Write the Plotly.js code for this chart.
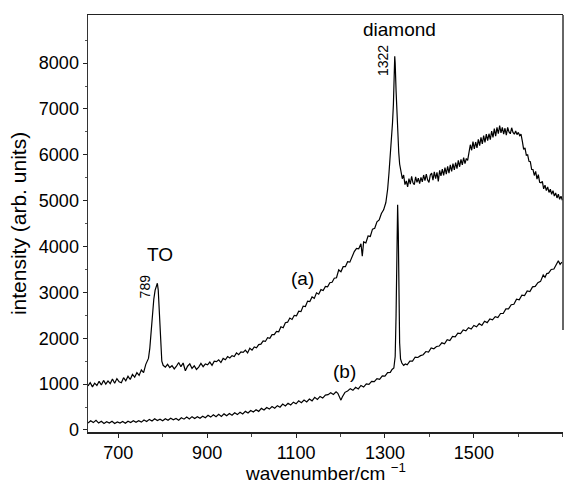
<!DOCTYPE html>
<html>
<head>
<meta charset="utf-8">
<script src="https://cdn.plot.ly/plotly-3.0.1.min.js"></script>
<style>html,body{margin:0;padding:0;background:#fff;}#chart{width:564px;height:483px;}</style>
</head>
<body>
<div id="chart"></div>
<script>
// Spectrum (a): wavenumber (cm^-1) and intensity (arb. units)
const waveA = [632,637,642,647,652,657,662,667,672,677,682,687,692,697,702,707,712,717,722,727,732,737,742,747,752,757,762,
  765,768,771,774,777,780,783,786,788,790,792,794,796,798,
  801,806,811,816,821,826,831,836,841,846,851,856,861,866,871,876,881,886,891,896,901,906,911,916,921,926,931,936,941,946,951,956,961,966,971,976,981,986,991,996,1001,1006,1011,1016,1021,1026,1031,1036,1041,1046,1051,1056,1061,1066,1071,1076,1081,1086,1091,1096,1101,1106,1111,1116,1121,1126,1131,1136,1141,1146,1151,1156,1161,1166,1171,1176,1181,1186,1191,1196,1201,1206,1211,1216,1221,1226,1231,1236,1241,1246,
  1249,1252,1257,1262,1267,1272,1277,1282,1287,1292,1297,1302,
  1306,1309,1312,1315,1317,1319,1321,1322,1323,1325,1327,1329,1331,1333,
  1336,1339,1342,1345,1348,1351,1354,1357,1360,1363,1366,1369,1372,1375,1378,1381,1384,1387,1390,1393,1396,1399,1402,1405,1408,1411,1414,1417,1420,1423,1426,1429,1432,1435,1438,1441,1444,1447,1450,1453,1456,1459,1462,1465,1468,1471,1474,1477,1480,1483,1486,1489,1492,1495,1498,1501,1504,1507,1510,1513,1516,1519,1522,1525,1528,1531,1534,1537,1540,1543,1546,1549,1552,1555,1558,1561,1564,1567,1570,1573,1576,1579,1582,1585,1588,1591,1594,1597,1600,1603,1606,1609,1612,1615,1618,1621,1624,1627,1630,1633,1636,1639,1642,1645,1648,1651,1654,1657,1660,1663,1666,1669,1672,1675,1678,1681,1684,1687,1690,1693,1696,1699];
const intensityA = [960,1030,940,1020,970,1060,980,1080,1000,1070,1010,1110,1020,1120,1050,1030,1140,1070,1170,1100,1210,1150,1250,1190,1310,1250,1430,
  1480,1560,1780,2150,2550,2850,3050,3170,3200,3050,2700,2200,1750,1500,
  1410,1370,1430,1360,1400,1330,1390,1470,1380,1460,1290,1390,1440,1340,1400,1320,1370,1450,1380,1440,1420,1480,1410,1500,1490,1530,1470,1560,1530,1600,1570,1620,1600,1680,1640,1700,1690,1740,1680,1780,1740,1810,1790,1860,1870,1940,1930,2010,2000,2080,2080,2150,2140,2250,2230,2340,2350,2440,2410,2500,2490,2590,2580,2700,2690,2810,2800,2900,2870,2990,2960,3060,3040,3130,3120,3210,3220,3310,3320,3490,3450,3560,3560,3670,3660,3780,3890,3960,3950,4060,
  3790,4100,4080,4230,4220,4380,4400,4540,4580,4720,4800,4960,
  5250,5600,5950,6330,6700,7100,7800,8150,8000,7400,6800,6400,6050,5800,
  5620,5480,5560,5350,5430,5300,5480,5360,5530,5390,5350,5520,5400,5490,5370,5510,5410,5560,5440,5580,5450,5400,5560,5600,5450,5630,5480,5620,5420,5660,5540,5690,5550,5720,5580,5750,5600,5780,5640,5810,5670,5830,5700,5880,5740,5900,5780,5940,5810,5920,5880,6050,6220,6100,6290,6130,6280,6150,6340,6200,6380,6240,6420,6270,6450,6310,6460,6330,6520,6380,6570,6410,6600,6460,6640,6480,6600,6450,6580,6430,6600,6500,6460,6590,6490,6450,6520,6440,6490,6420,6450,6300,6120,6150,5990,6000,5860,5850,5680,5680,5550,5640,5470,5570,5400,5390,5420,5260,5340,5220,5300,5180,5250,5140,5220,5100,5170,5060,5140,5030,5100,5010];

// Spectrum (b)
const waveB = [632,638,644,650,656,662,668,674,680,686,692,698,704,710,716,722,728,734,740,746,752,758,764,770,776,782,788,794,800,806,812,818,824,830,836,842,848,854,860,866,872,878,884,890,896,902,908,914,920,926,932,938,944,950,956,962,968,974,980,986,992,998,1004,1010,1016,1022,1028,1034,1040,1046,1052,1058,1064,1070,1076,1082,1088,1094,1100,1106,1112,1118,1124,1130,1136,1142,1148,1154,1160,1166,1172,1178,1184,1190,1194,1198,1201,1204,1210,1216,1222,1228,1234,1240,1246,1252,1258,1264,1270,1276,1282,1288,1294,1300,1306,1312,1316,1320,
  1323,1325,1327,1328.5,1330,1331.5,1333,
  1335,1338,1342,1346,1350,1356,1362,1368,1374,1380,1386,1392,1398,1404,1410,1416,1422,1428,1434,1440,1446,1452,1458,1464,1470,1476,1482,1488,1494,1500,1506,1512,1518,1524,1530,1536,1542,1548,1554,1560,1566,1572,1578,1584,1590,1596,1602,1608,1614,1620,1626,1632,1638,1644,1650,1656,1660,1664,1668,1674,1680,1686,1690,1694,1698];
const intensityB = [150,200,160,210,150,190,140,180,150,190,140,175,150,185,145,190,160,200,165,200,170,215,185,230,195,245,205,235,200,245,210,255,220,250,210,265,235,280,240,290,250,290,255,300,265,320,280,330,290,340,295,350,310,360,320,375,335,385,350,405,370,425,390,440,405,470,435,490,455,510,475,530,495,565,525,580,545,605,570,635,595,650,610,675,635,710,665,730,695,760,770,810,775,830,800,700,650,720,820,850,900,865,930,895,970,935,1005,995,1060,1055,1120,1105,1180,1175,1250,1255,1320,1350,
  1600,2500,4200,4910,4300,2800,1900,
  1550,1460,1410,1440,1420,1500,1500,1590,1580,1620,1640,1710,1700,1790,1770,1820,1830,1900,1880,1970,1950,2040,2030,2110,2100,2180,2160,2230,2200,2280,2250,2320,2280,2370,2340,2420,2400,2470,2450,2540,2540,2640,2640,2730,2740,2850,2840,2940,2930,3030,3020,3120,3130,3210,3240,3380,3330,3410,3420,3500,3510,3620,3690,3610,3660];

const xTickVals = [700, 900, 1100, 1300, 1500];
const xMinorVals = [800, 1000, 1200, 1400, 1600, 1700];
const yTickVals = [0, 1000, 2000, 3000, 4000, 5000, 6000, 7000, 8000];
const yMinorVals = [500, 1500, 2500, 3500, 4500, 5500, 6500, 7500, 8500];

const FONT = 'Liberation Sans, Arial, Helvetica, sans-serif';
const lineStyle = {color: '#000', width: 1.2};

const traces = [
  {x: waveA, y: intensityA, type: 'scatter', mode: 'lines', line: lineStyle, name: '(a)'},
  {x: waveB, y: intensityB, type: 'scatter', mode: 'lines', line: lineStyle, name: '(b)'}
];

const annFont = {family: FONT, size: 19, color: '#000'};
const smallFont = {family: FONT, size: 14, color: '#000'};

const layout = {
  width: 564, height: 483,
  margin: {l: 88, r: 1, t: 15, b: 51, pad: 0},
  paper_bgcolor: '#fff', plot_bgcolor: '#fff',
  showlegend: false,
  font: {family: FONT, size: 18, color: '#000'},
  xaxis: {
    range: [632, 1700.5], showgrid: false, zeroline: false,
    showline: true, linecolor: '#222', linewidth: 1.5, mirror: true,
    tickmode: 'array', tickvals: xTickVals, ticks: 'outside', ticklen: 4, tickcolor: '#222',
    minor: {tickmode: 'array', tickvals: xMinorVals, ticks: 'outside', ticklen: 3, tickcolor: '#444'},
    tickfont: {family: FONT, size: 18, color: '#000'}
  },
  yaxis: {
    range: [-45, 9050], showgrid: false, zeroline: false,
    showline: true, linecolor: '#333', linewidth: 1.5,
    tickmode: 'array', tickvals: yTickVals, ticks: 'outside', ticklen: 4, tickcolor: '#222',
    minor: {tickmode: 'array', tickvals: yMinorVals, ticks: 'outside', ticklen: 2, tickcolor: '#555'},
    tickfont: {family: FONT, size: 18, color: '#000'},
    title: {text: 'intensity (arb. units)', font: {family: FONT, size: 21, color: '#000'}, standoff: 6}
  },
  shapes: [
    {type: 'line', xref: 'paper', x0: 1, x1: 1, yref: 'y', y0: 2180, y1: 9050, line: {color: '#333', width: 1.5}}
  ],
  annotations: [
    {x: 0.5, y: -0.095, xref: 'paper', yref: 'paper', xanchor: 'center', yanchor: 'middle', text: 'wavenumber/cm <sup>−1</sup>', showarrow: false, font: {family: FONT, size: 19, color: '#000'}},
    {x: 793, y: 3818, xref: 'x', yref: 'y', text: 'TO', showarrow: false, font: annFont},
    {x: 759, y: 3141, xref: 'x', yref: 'y', text: '789', showarrow: false, textangle: -90, font: smallFont},
    {x: 1332, y: 8726, xref: 'x', yref: 'y', text: 'diamond', showarrow: false, font: annFont},
    {x: 1296, y: 8050, xref: 'x', yref: 'y', text: '1322', showarrow: false, textangle: -90, font: smallFont},
    {x: 1114, y: 3294, xref: 'x', yref: 'y', text: '(a)', showarrow: false, font: annFont},
    {x: 1208, y: 1265, xref: 'x', yref: 'y', text: '(b)', showarrow: false, font: annFont}
  ]
};

Plotly.newPlot('chart', traces, layout, {staticPlot: true, displayModeBar: false});
</script>
</body>
</html>
